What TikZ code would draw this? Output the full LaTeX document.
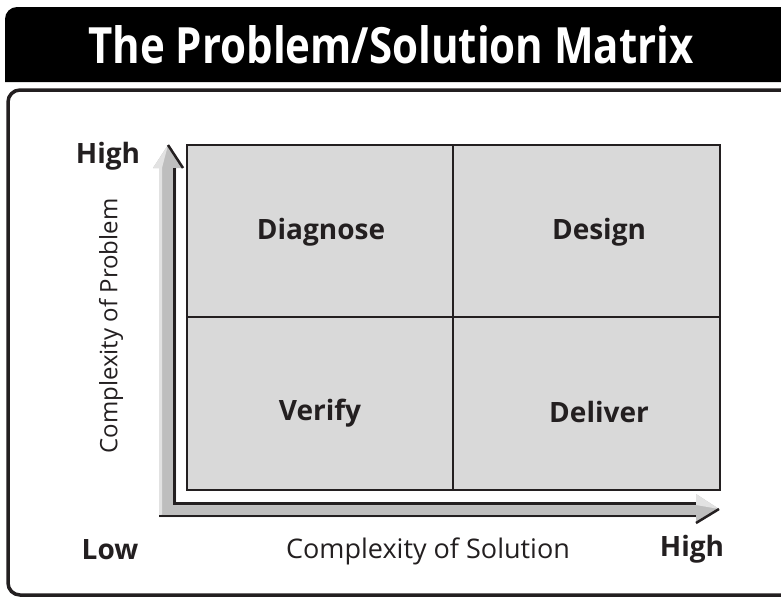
\documentclass[tikz,border=0pt]{standalone}
\usepackage{fontspec}
\setmainfont{Open Sans}
\newfontfamily\titlefont[FakeStretch=0.84]{Open Sans}
\definecolor{ink}{HTML}{231F20}
\definecolor{cellfill}{HTML}{D9D9D9}
\definecolor{shaft}{HTML}{BEBEBE}
\definecolor{shine}{HTML}{E2E2E2}
\begin{document}
\begin{tikzpicture}[x=1pt,y=-1pt,
  cell/.style={fill=cellfill,draw=ink,line width=2.8pt},
  celltext/.style={font=\fontsize{28}{32}\selectfont\bfseries,text=ink},
  axislabel/.style={font=\fontsize{27}{32}\selectfont,text=ink},
  endlabel/.style={font=\fontsize{28}{32}\selectfont\bfseries,text=ink}]
\useasboundingbox (0,0) rectangle (781,598);
\clip (0,0) rectangle (781,598);
% title bar
\path[fill=black,rounded corners=12pt] (5,82) -- (5,7) -- (800,7) [sharp corners] -- (800,82) -- cycle;
\node[font=\titlefont\fontsize{50}{56}\selectfont\bfseries,text=white] (title) at (391,45) {The Problem/Solution Matrix};
% body frame
\draw[ink,line width=3.5pt,rounded corners=12pt] (800,90) -- (8,90) -- (8,595) -- (800,595);
% matrix
\node[cell,minimum width=266pt,minimum height=172pt,inner sep=0pt] (c11) at (320,231) {};
\node[cell,minimum width=267pt,minimum height=172pt,inner sep=0pt] (c12) at (586.5,231) {};
\node[cell,minimum width=266pt,minimum height=173pt,inner sep=0pt] (c21) at (320,403.5) {};
\node[cell,minimum width=267pt,minimum height=173pt,inner sep=0pt] (c22) at (586.5,403.5) {};
\node[celltext] (diagnose) at (321,232) {Diagnose};
\node[celltext] (design) at (599,232) {Design};
\node[celltext] (verify) at (320,413) {Verify};
\node[celltext] (deliver) at (599,412) {Deliver};
% L-shaped axis arrow
\coordinate (tipv) at (168,145);
\coordinate (tiph) at (719,509);
\fill[shaft] (159,517) -- (159,168) -- (153,168) -- (tipv) -- (183,168) -- (176,168) -- (176,502)
  -- (696,502) -- (696,494) -- (tiph) -- (696,523) -- (696,517) -- cycle;
\fill[shine] (159,517) -- (159,168) -- (153,168) -- (tipv) -- (162,168) -- (162,514) -- cycle;
\fill[shine] (176,502) -- (696,502) -- (696,494) -- (tiph) -- (696,505) -- (176,505) -- cycle;
\draw[ink,line width=2.5pt] (tipv) -- (183,168);
\draw[ink,line width=2.5pt] (174.5,168) -- (174.5,503.5) -- (696,503.5);
\draw[ink,line width=2.5pt] (159,516) -- (696,516);
\draw[ink,line width=2.5pt] (696,523) -- (tiph);
% labels
\node[endlabel] (hightop) at (108,156) {High};
\node[endlabel] (low) at (110,550) {Low};
\node[endlabel] (highright) at (692,549) {High};
\node[axislabel] (solution) at (428,551) {Complexity of Solution};
\node[axislabel,rotate=90,font=\fontsize{24}{28}\selectfont] (problem) at (111,326) {Complexity of Problem};
\end{tikzpicture}
\end{document}
